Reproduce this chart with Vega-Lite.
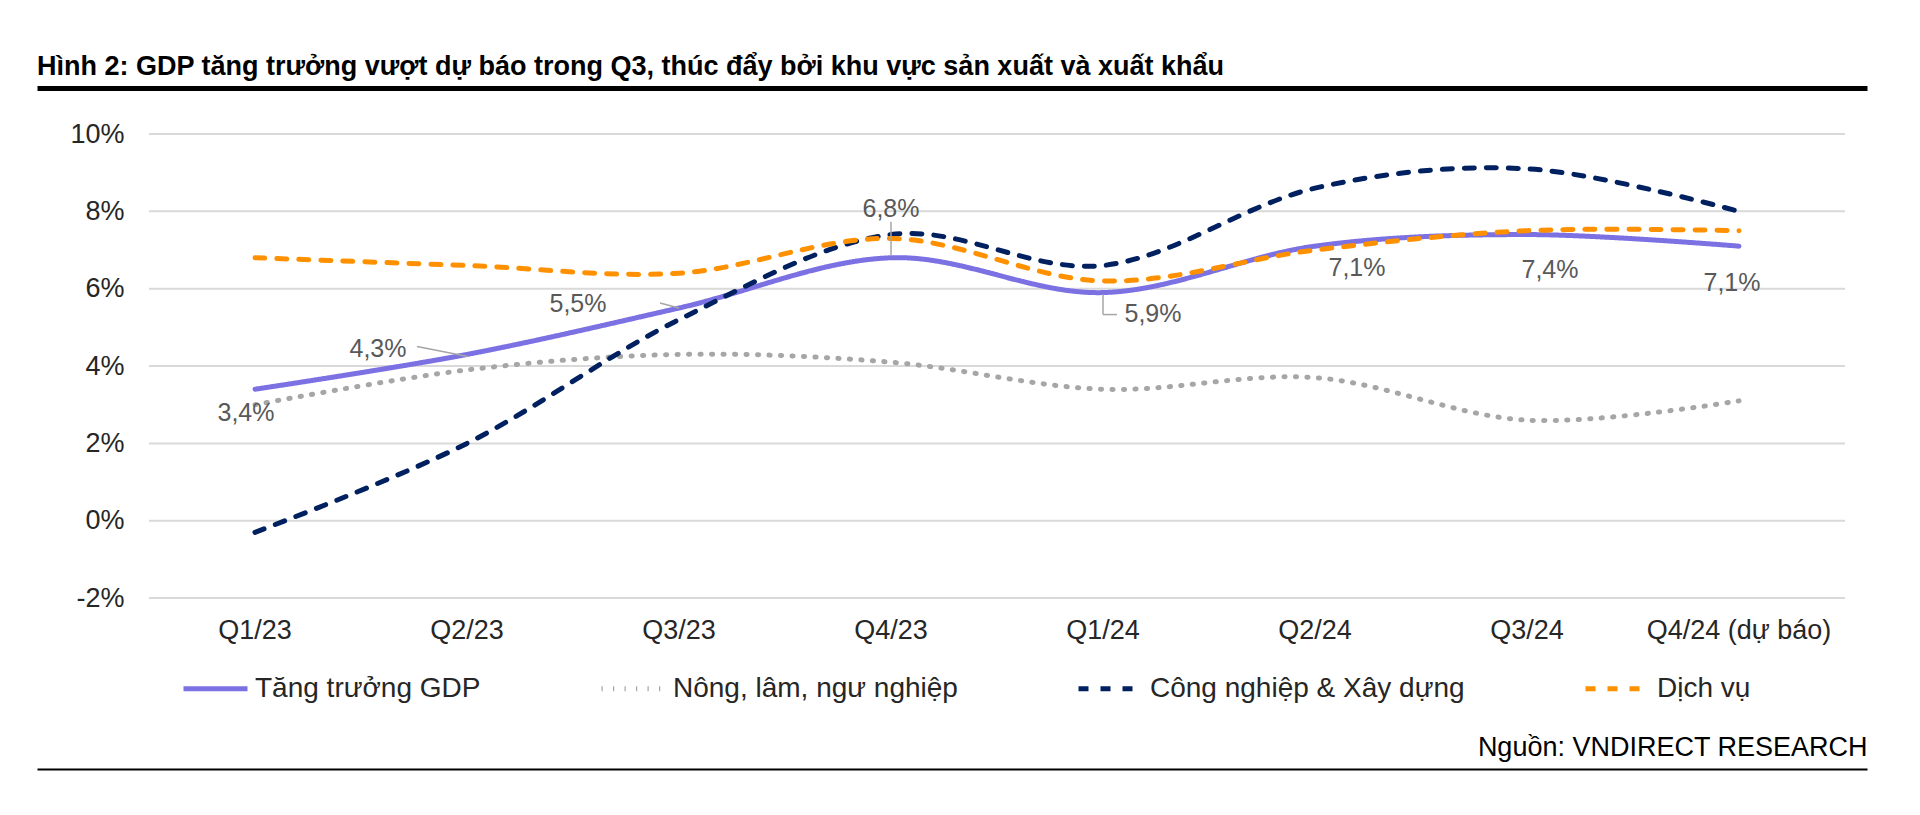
{
  "$schema": "https://vega.github.io/schema/vega-lite/v6.json",
  "width": 1830,
  "height": 681,
  "autosize": {"type": "none"},
  "padding": {"left": 37, "top": 88, "right": 53, "bottom": 46},
  "background": "white",
  "title": {
    "text": "Hình 2: GDP tăng trưởng vượt dự báo trong Q3, thúc đẩy bởi khu vực sản xuất và xuất khẩu",
    "anchor": "start",
    "frame": "group",
    "font": "Liberation Sans",
    "fontSize": 27,
    "fontWeight": "bold",
    "color": "#000000",
    "offset": 7
  },
  "datasets": {
    "gdp": [
      {"q": "Q1/23", "series": "Tăng trưởng GDP", "v": 0.034},
      {"q": "Q2/23", "series": "Tăng trưởng GDP", "v": 0.043},
      {"q": "Q3/23", "series": "Tăng trưởng GDP", "v": 0.055},
      {"q": "Q4/23", "series": "Tăng trưởng GDP", "v": 0.068},
      {"q": "Q1/24", "series": "Tăng trưởng GDP", "v": 0.059},
      {"q": "Q2/24", "series": "Tăng trưởng GDP", "v": 0.071},
      {"q": "Q3/24", "series": "Tăng trưởng GDP", "v": 0.074},
      {"q": "Q4/24 (dự báo)", "series": "Tăng trưởng GDP", "v": 0.071},
      {"q": "Q1/23", "series": "Nông, lâm, ngư nghiệp", "v": 0.030},
      {"q": "Q2/23", "series": "Nông, lâm, ngư nghiệp", "v": 0.039},
      {"q": "Q3/23", "series": "Nông, lâm, ngư nghiệp", "v": 0.043},
      {"q": "Q4/23", "series": "Nông, lâm, ngư nghiệp", "v": 0.041},
      {"q": "Q1/24", "series": "Nông, lâm, ngư nghiệp", "v": 0.034},
      {"q": "Q2/24", "series": "Nông, lâm, ngư nghiệp", "v": 0.037},
      {"q": "Q3/24", "series": "Nông, lâm, ngư nghiệp", "v": 0.026},
      {"q": "Q4/24 (dự báo)", "series": "Nông, lâm, ngư nghiệp", "v": 0.031},
      {"q": "Q1/23", "series": "Công nghiệp & Xây dựng", "v": -0.003},
      {"q": "Q2/23", "series": "Công nghiệp & Xây dựng", "v": 0.020},
      {"q": "Q3/23", "series": "Công nghiệp & Xây dựng", "v": 0.052},
      {"q": "Q4/23", "series": "Công nghiệp & Xây dựng", "v": 0.074},
      {"q": "Q1/24", "series": "Công nghiệp & Xây dựng", "v": 0.066},
      {"q": "Q2/24", "series": "Công nghiệp & Xây dựng", "v": 0.086},
      {"q": "Q3/24", "series": "Công nghiệp & Xây dựng", "v": 0.091},
      {"q": "Q4/24 (dự báo)", "series": "Công nghiệp & Xây dựng", "v": 0.080},
      {"q": "Q1/23", "series": "Dịch vụ", "v": 0.068},
      {"q": "Q2/23", "series": "Dịch vụ", "v": 0.066},
      {"q": "Q3/23", "series": "Dịch vụ", "v": 0.064},
      {"q": "Q4/23", "series": "Dịch vụ", "v": 0.073},
      {"q": "Q1/24", "series": "Dịch vụ", "v": 0.062},
      {"q": "Q2/24", "series": "Dịch vụ", "v": 0.070},
      {"q": "Q3/24", "series": "Dịch vụ", "v": 0.075},
      {"q": "Q4/24 (dự báo)", "series": "Dịch vụ", "v": 0.075}
    ],
    "grid": [
      {"v": -0.02}, {"v": 0.0}, {"v": 0.02}, {"v": 0.04},
      {"v": 0.06}, {"v": 0.08}, {"v": 0.10}
    ]
  },
  "data": {"name": "gdp"},
  "encoding": {
    "y": {
      "field": "v",
      "type": "quantitative",
      "scale": {"domain": [-0.0642, 0.1119], "nice": false, "zero": false},
      "axis": {
        "orient": "left",
        "offset": -112,
        "values": [-0.02, 0, 0.02, 0.04, 0.06, 0.08, 0.1],
        "format": ".0%",
        "domain": false,
        "ticks": false,
        "grid": false,
        "title": null,
        "labelPadding": 25,
        "labelFont": "Liberation Sans",
        "labelFontSize": 27,
        "labelColor": "#262626"
      }
    }
  },
  "layer": [
    {
      "data": {"name": "grid"},
      "mark": {"type": "rule", "color": "#D9D9D9", "strokeWidth": 2},
      "encoding": {
        "x": {
          "datum": "Q1/23",
          "bandPosition": 0,
          "axis": {
            "orient": "top",
            "domain": true,
            "domainColor": "#000000",
            "domainWidth": 5,
            "labels": false,
            "ticks": false,
            "grid": false,
            "title": null
          }
        },
        "x2": {"datum": "Q4/24 (dự báo)", "bandPosition": 1}
      }
    },
    {
      "mark": {"type": "line", "interpolate": "cardinal", "strokeWidth": 5, "strokeCap": "round"},
      "encoding": {
        "x": {
          "field": "q",
          "type": "nominal",
          "sort": null,
          "scale": {
            "type": "band",
            "domain": ["Q1/23", "Q2/23", "Q3/23", "Q4/23", "Q1/24", "Q2/24", "Q3/24", "Q4/24 (dự báo)"],
            "paddingInner": 0,
            "paddingOuter": 0.31604,
            "align": 0.8358
          },
          "axis": {
            "orient": "bottom",
            "offset": -171,
            "domain": false,
            "ticks": false,
            "grid": false,
            "labelAngle": 0,
            "labelPadding": 19,
            "labelLimit": 400,
            "labelFont": "Liberation Sans",
            "labelFontSize": 27,
            "labelColor": "#262626",
            "title": "Nguồn: VNDIRECT RESEARCH",
            "titleAnchor": "end",
            "titleAlign": "right",
            "titleBaseline": "middle",
            "titleY": 149,
            "titleFont": "Liberation Sans",
            "titleFontSize": 27,
            "titleFontWeight": "normal",
            "titleColor": "#000000"
          }
        },
        "color": {
          "field": "series",
          "type": "nominal",
          "scale": {
            "domain": ["Tăng trưởng GDP", "Nông, lâm, ngư nghiệp", "Công nghiệp & Xây dựng", "Dịch vụ"],
            "range": ["#7C71E3", "#A6A6A6", "#002060", "#FF9100"]
          },
          "legend": {
            "title": null,
            "orient": "none",
            "direction": "horizontal",
            "columns": 4,
            "legendX": 144,
            "legendY": 566,
            "padding": 0,
            "symbolType": "stroke",
            "symbolSize": 4096,
            "symbolStrokeWidth": 5,
            "labelOffset": 5,
            "columnPadding": 110,
            "labelFont": "Liberation Sans",
            "labelFontSize": 28,
            "labelColor": "#262626",
            "labelLimit": 600
          }
        },
        "strokeDash": {
          "field": "series",
          "type": "nominal",
          "scale": {
            "domain": ["Tăng trưởng GDP", "Nông, lâm, ngư nghiệp", "Công nghiệp & Xây dựng", "Dịch vụ"],
            "range": [[1, 0], [1.2, 10.3], [10, 12], [10, 12]]
          },
          "legend": {
            "title": null,
            "orient": "none",
            "direction": "horizontal",
            "columns": 4,
            "legendX": 144,
            "legendY": 566,
            "padding": 0,
            "symbolType": "stroke",
            "symbolSize": 4096,
            "symbolStrokeWidth": 5,
            "labelOffset": 5,
            "columnPadding": 110,
            "labelFont": "Liberation Sans",
            "labelFontSize": 28,
            "labelColor": "#262626",
            "labelLimit": 600
          }
        }
      }
    },
    {
      "transform": [{"filter": "datum.series == 'Tăng trưởng GDP' && datum.q == 'Q2/23'"}],
      "mark": {"type": "rule", "color": "#A6A6A6", "strokeWidth": 1.5, "xOffset": -50, "yOffset": -8, "x2Offset": 1, "y2Offset": 2},
      "encoding": {
        "x": {
          "field": "q",
          "type": "nominal",
          "axis": {
            "orient": "bottom",
            "offset": 0,
            "domain": true,
            "domainColor": "#000000",
            "domainWidth": 2,
            "labels": false,
            "ticks": false,
            "grid": false,
            "title": null
          }
        },
        "x2": {"field": "q"},
        "y2": {"field": "v"}
      }
    },
    {
      "transform": [{"filter": "datum.series == 'Tăng trưởng GDP' && datum.q == 'Q3/23'"}],
      "mark": {"type": "rule", "color": "#A6A6A6", "strokeWidth": 1.5, "xOffset": -19, "yOffset": -5, "x2Offset": 0, "y2Offset": 0},
      "encoding": {
        "x": {"field": "q", "type": "nominal", "axis": null},
        "x2": {"field": "q"},
        "y2": {"field": "v"}
      }
    },
    {
      "transform": [{"filter": "datum.series == 'Tăng trưởng GDP' && datum.q == 'Q4/23'"}],
      "mark": {"type": "rule", "color": "#A6A6A6", "strokeWidth": 1.5, "yOffset": -2, "y2Offset": -36},
      "encoding": {
        "x": {"field": "q", "type": "nominal", "axis": null},
        "y2": {"field": "v"}
      }
    },
    {
      "transform": [{"filter": "datum.series == 'Tăng trưởng GDP' && datum.q == 'Q1/24'"}],
      "mark": {"type": "rule", "color": "#A6A6A6", "strokeWidth": 1.5, "yOffset": 2, "y2Offset": 22},
      "encoding": {
        "x": {"field": "q", "type": "nominal", "axis": null},
        "y2": {"field": "v"}
      }
    },
    {
      "transform": [{"filter": "datum.series == 'Tăng trưởng GDP' && datum.q == 'Q1/24'"}],
      "mark": {"type": "rule", "color": "#A6A6A6", "strokeWidth": 1.5, "xOffset": 0, "x2Offset": 14, "yOffset": 22, "y2Offset": 22},
      "encoding": {
        "x": {"field": "q", "type": "nominal", "axis": null},
        "x2": {"field": "q"},
        "y2": {"field": "v"}
      }
    },
    {
      "transform": [{"filter": "datum.series == 'Tăng trưởng GDP' && datum.q == 'Q1/23'"}],
      "mark": {"type": "text", "font": "Liberation Sans", "fontSize": 25, "color": "#595959", "align": "center", "baseline": "middle", "dx": -9, "dy": 24},
      "encoding": {
        "x": {"field": "q", "type": "nominal", "axis": null},
        "text": {"field": "v", "type": "quantitative", "format": ".1%"}
      }
    },
    {
      "transform": [{"filter": "datum.series == 'Tăng trưởng GDP' && datum.q == 'Q2/23'"}],
      "mark": {"type": "text", "font": "Liberation Sans", "fontSize": 25, "color": "#595959", "align": "center", "baseline": "middle", "dx": -89, "dy": -5},
      "encoding": {
        "x": {"field": "q", "type": "nominal", "axis": null},
        "text": {"field": "v", "type": "quantitative", "format": ".1%"}
      }
    },
    {
      "transform": [{"filter": "datum.series == 'Tăng trưởng GDP' && datum.q == 'Q3/23'"}],
      "mark": {"type": "text", "font": "Liberation Sans", "fontSize": 25, "color": "#595959", "align": "center", "baseline": "middle", "dx": -101, "dy": -4},
      "encoding": {
        "x": {"field": "q", "type": "nominal", "axis": null},
        "text": {"field": "v", "type": "quantitative", "format": ".1%"}
      }
    },
    {
      "transform": [{"filter": "datum.series == 'Tăng trưởng GDP' && datum.q == 'Q4/23'"}],
      "mark": {"type": "text", "font": "Liberation Sans", "fontSize": 25, "color": "#595959", "align": "center", "baseline": "middle", "dx": 0, "dy": -49},
      "encoding": {
        "x": {"field": "q", "type": "nominal", "axis": null},
        "text": {"field": "v", "type": "quantitative", "format": ".1%"}
      }
    },
    {
      "transform": [{"filter": "datum.series == 'Tăng trưởng GDP' && datum.q == 'Q1/24'"}],
      "mark": {"type": "text", "font": "Liberation Sans", "fontSize": 25, "color": "#595959", "align": "center", "baseline": "middle", "dx": 50, "dy": 21},
      "encoding": {
        "x": {"field": "q", "type": "nominal", "axis": null},
        "text": {"field": "v", "type": "quantitative", "format": ".1%"}
      }
    },
    {
      "transform": [{"filter": "datum.series == 'Tăng trưởng GDP' && datum.q == 'Q2/24'"}],
      "mark": {"type": "text", "font": "Liberation Sans", "fontSize": 25, "color": "#595959", "align": "center", "baseline": "middle", "dx": 42, "dy": 22},
      "encoding": {
        "x": {"field": "q", "type": "nominal", "axis": null},
        "text": {"field": "v", "type": "quantitative", "format": ".1%"}
      }
    },
    {
      "transform": [{"filter": "datum.series == 'Tăng trưởng GDP' && datum.q == 'Q3/24'"}],
      "mark": {"type": "text", "font": "Liberation Sans", "fontSize": 25, "color": "#595959", "align": "center", "baseline": "middle", "dx": 23, "dy": 35},
      "encoding": {
        "x": {"field": "q", "type": "nominal", "axis": null},
        "text": {"field": "v", "type": "quantitative", "format": ".1%"}
      }
    },
    {
      "transform": [{"filter": "datum.series == 'Tăng trưởng GDP' && datum.q == 'Q4/24 (dự báo)'"}],
      "mark": {"type": "text", "font": "Liberation Sans", "fontSize": 25, "color": "#595959", "align": "center", "baseline": "middle", "dx": -7, "dy": 37},
      "encoding": {
        "x": {"field": "q", "type": "nominal", "axis": null},
        "text": {"field": "v", "type": "quantitative", "format": ".1%"}
      }
    }
  ],
  "resolve": {"axis": {"x": "independent"}},
  "config": {
    "view": {"stroke": null},
    "font": "Liberation Sans",
    "locale": {
      "number": {"decimal": ",", "thousands": ".", "grouping": [3], "currency": ["", ""], "minus": "-"}
    }
  }
}
